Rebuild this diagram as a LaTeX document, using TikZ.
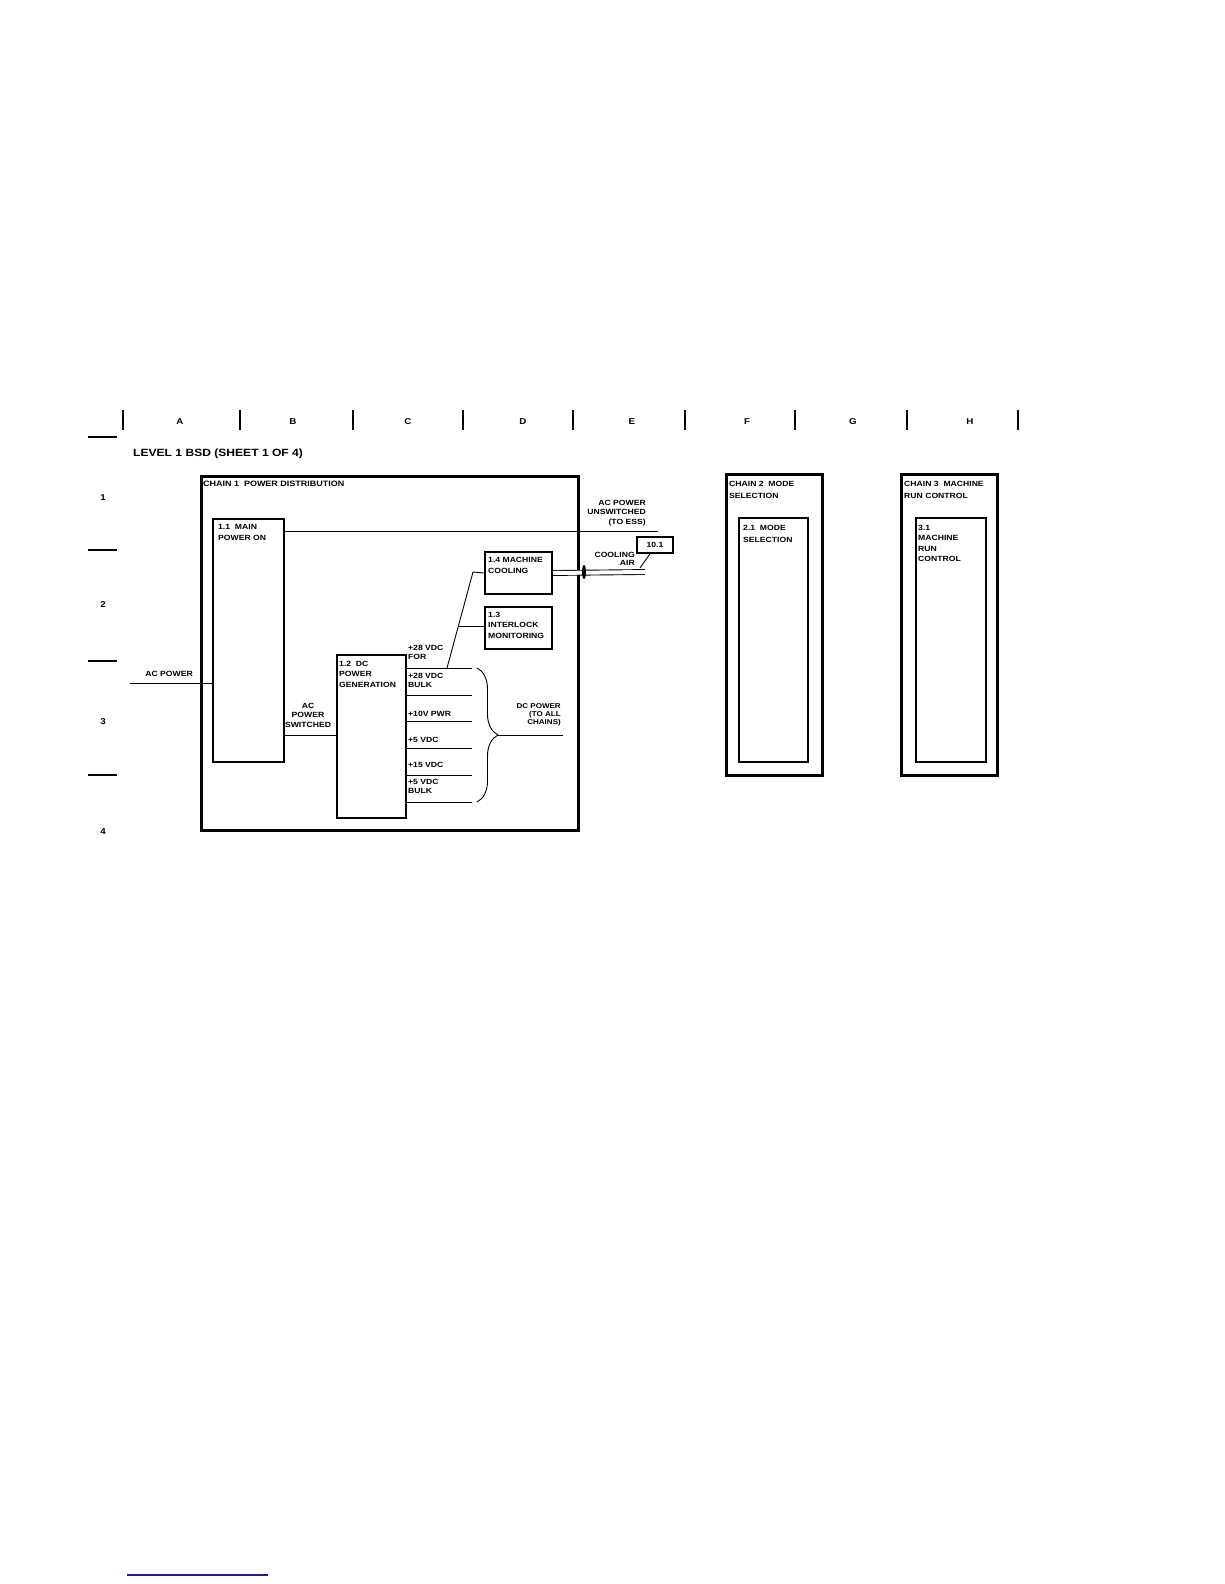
\documentclass[tikz,border=0pt]{standalone}
\usepackage{fontspec}
\setmainfont{Liberation Sans}[FakeStretch=1.15]
\usetikzlibrary{positioning,calc,decorations.pathreplacing}
\definecolor{linkblue}{RGB}{30,30,140}
\begin{document}
\begin{tikzpicture}
                [x=1pt, y=-1pt,
                 chainbox/.style={draw, line width=3pt, inner sep=0pt, anchor=north west},
                 blockbox/.style={draw, line width=2pt, inner sep=0pt, anchor=north west},
                 txt/.style={font=\bfseries\fontsize{7.5}{9.5}\selectfont, inner sep=0pt, align=left},
                 boxtxt/.style={font=\bfseries\fontsize{7.5}{11}\selectfont, inner sep=0pt, align=left, anchor=north west},
                 ruletxt/.style={font=\bfseries\fontsize{8.5}{10}\selectfont, inner sep=0pt},
                 wire/.style={line width=0.9pt},
                 tick/.style={line width=2pt}]
                \useasboundingbox (0,0) rectangle (1224,1584);
                % Define ruler
                \foreach \x in {123,240,353,463,573,685,795,907,1018}
                    \draw[tick] (\x,410) -- (\x,430);
                \foreach \x/\c in {180/A,293/B,408/C,523/D,632/E,747/F,853/G,970/H}
                    \node[ruletxt] (col\c) at (\x,422) {\c};
                \foreach \y in {437,550,661,775}
                    \draw[tick] (88,\y) -- (117,\y);
                \foreach \y/\n in {498/1,605/2,722/3,832/4}
                    \node[ruletxt] (row\n) at (103,\y) {\n};
                \node[font=\bfseries\fontsize{10.5}{12}\selectfont, inner sep=0pt, anchor=base west] (Title) at (133,456) {LEVEL 1 BSD (SHEET 1 OF 4)};
                % Define boxes
                \node[chainbox, minimum width=377pt, minimum height=354pt] (chainone) at (200,475) {};
                \node[boxtxt, font=\bfseries\fontsize{7.8}{11}\selectfont] (chainonelbl) at ([shift={(3pt,-6pt)}]chainone.north west) {CHAIN 1\ \ POWER DISTRIBUTION};
                \node[blockbox, minimum width=71pt, minimum height=243pt] (mainpwr) at (212,518) {};
                \node[boxtxt] (mainpwrlbl) at ([shift={(6pt,-6pt)}]mainpwr.north west) {1.1\ \ MAIN\\POWER ON};
                \node[blockbox, minimum width=67pt, minimum height=42pt] (cooling) at (484,551) {};
                \node[boxtxt] (coolinglbl) at ([shift={(4pt,-6pt)}]cooling.north west) {1.4 MACHINE\\COOLING};
                \node[blockbox, minimum width=67pt, minimum height=42pt] (interlock) at (484,606) {};
                \node[boxtxt, font=\bfseries\fontsize{7.5}{10.5}\selectfont] (interlocklbl) at ([shift={(4pt,-6pt)}]interlock.north west) {1.3\\INTERLOCK\\MONITORING};
                \node[blockbox, minimum width=69pt, minimum height=163pt] (dcgen) at (336,654) {};
                \node[boxtxt, font=\bfseries\fontsize{7.5}{10.5}\selectfont] (dcgenlbl) at ([shift={(3pt,-7pt)}]dcgen.north west) {1.2\ \ DC\\POWER\\GENERATION};
                \node[draw, line width=1.5pt, minimum width=36pt, minimum height=16pt, inner sep=0pt, txt] (ref) at (655,545) {10.1};
                \node[chainbox, minimum width=96pt, minimum height=301pt] (chaintwo) at (725,473) {};
                \node[boxtxt, font=\bfseries\fontsize{7.5}{12}\selectfont] (chaintwolbl) at ([shift={(4pt,-8pt)}]chaintwo.north west) {CHAIN 2\ \ MODE\\SELECTION};
                \node[blockbox, minimum width=69pt, minimum height=244pt] (modesel) at (738,517) {};
                \node[boxtxt, font=\bfseries\fontsize{7.5}{12}\selectfont] (modesellbl) at ([shift={(5pt,-8pt)}]modesel.north west) {2.1\ \ MODE\\SELECTION};
                \node[chainbox, minimum width=96pt, minimum height=301pt] (chainthree) at (900,473) {};
                \node[boxtxt, font=\bfseries\fontsize{7.5}{12}\selectfont] (chainthreelbl) at ([shift={(4pt,-8pt)}]chainthree.north west) {CHAIN 3\ \ MACHINE\\RUN CONTROL};
                \node[blockbox, minimum width=70pt, minimum height=244pt] (runctl) at (915,517) {};
                \node[boxtxt, font=\bfseries\fontsize{7.5}{10.5}\selectfont] (runctllbl) at ([shift={(3pt,-8pt)}]runctl.north west) {3.1\\MACHINE\\RUN\\CONTROL};
                % Define free ends
                \coordinate (acin) at (130,683);
                \coordinate (essend) at (658,531);
                \coordinate (airend) at (645,572);
                \coordinate (airtip) at (640,568);
                \coordinate (bend) at (473,572);
                \coordinate (forend) at (447,668);
                \coordinate (tap) at ($(bend)!0.57!(forend)$);
                \coordinate (bracetop) at (477,668);
                \coordinate (bracebot) at (477,802);
                \coordinate (dctip) at (498,735);
                \coordinate (dcend) at (563,735);
                % Define edges
                \draw[wire] (acin) -- (acin -| mainpwr.west);
                \draw[wire] (essend -| mainpwr.east) -- (essend);
                \draw[wire] (mainpwr.east |- 0,735) -- (dcgen.west |- 0,735);
                \draw[wire, double, double distance=4pt] (cooling.east) -- (airend);
                \fill (584,572) ellipse [x radius=2pt, y radius=7pt];
                \draw[wire] ([xshift=-5pt]ref.south) -- (airtip);
                \draw[wire] (cooling.west) -- (bend) -- (forend);
                \draw[wire] (tap) -- (tap -| interlock.west);
                \foreach \y in {668,695,721,748,775,802}
                    \draw[wire] (dcgen.east |- 0,\y) -- (472,\y);
                \draw[wire, decorate, decoration={brace, amplitude=21pt}] (bracetop) -- (bracebot);
                \draw[wire] (dctip) -- (dcend);
                % Define edge labels
                \node[txt, anchor=base east] (aclbl) at (193,676) {AC POWER};
                \node[txt, align=right, anchor=north east] (esslbl) at (646,500) {AC POWER\\UNSWITCHED\\(TO ESS)};
                \node[txt, align=right, anchor=north east, font=\bfseries\fontsize{7.5}{8.5}\selectfont] (airlbl) at (635,552) {COOLING\\AIR};
                \node[txt, align=center, anchor=north] (swlbl) at (308,703) {AC\\POWER\\SWITCHED};
                \node[txt, anchor=north west] (forlbl) at (408,645) {+28 VDC\\FOR};
                \node[txt, anchor=north west] (bulklbl) at (408,673) {+28 VDC\\BULK};
                \node[txt, anchor=base west] (pwrlbl) at (408,716) {+10V PWR};
                \node[txt, anchor=base west] (fivelbl) at (408,742) {+5 VDC};
                \node[txt, anchor=base west] (fifteenlbl) at (408,767) {+15 VDC};
                \node[txt, anchor=north west] (fivebulklbl) at (408,779) {+5 VDC\\BULK};
                \node[txt, align=right, anchor=north east, font=\bfseries\fontsize{7}{8}\selectfont] (dclbl) at (561,703) {DC POWER\\(TO ALL\\CHAINS)};
                % Define footer
                \draw[linkblue, line width=1.5pt] (127,1575) -- (268,1575);
            \end{tikzpicture}
\end{document}
